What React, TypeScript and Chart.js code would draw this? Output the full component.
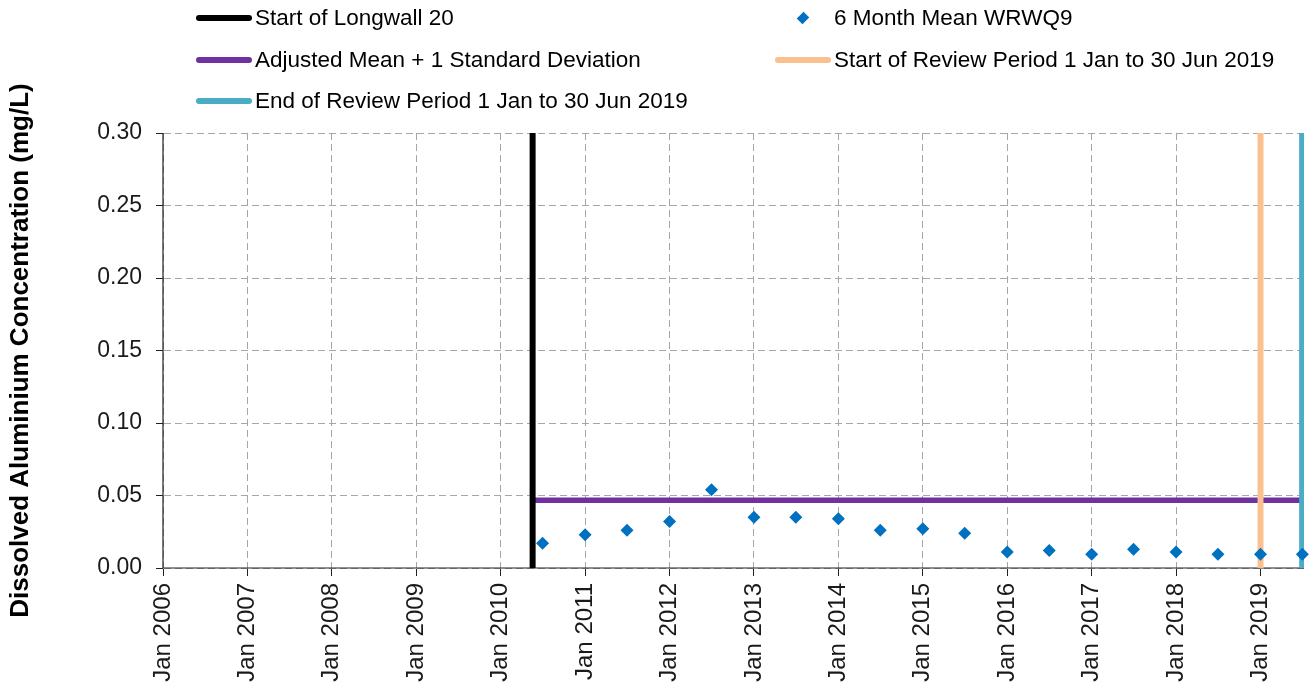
import React, { useEffect, useRef } from 'react';
import { Chart, registerables } from 'chart.js';

Chart.register(...registerables);

// ---------- data ----------
const YEAR_TICKS = [2006, 2007, 2008, 2009, 2010, 2011, 2012, 2013, 2014, 2015, 2016, 2017, 2018, 2019];
const Y_TICKS = [0, 0.05, 0.1, 0.15, 0.2, 0.25, 0.3];

const SAMPLE_DATES = [
  '2010-07-01', '2011-01-01', '2011-07-01', '2012-01-01', '2012-07-01', '2013-01-01', '2013-07-01',
  '2014-01-01', '2014-07-01', '2015-01-01', '2015-07-01', '2016-01-01', '2016-07-01', '2017-01-01',
  '2017-07-01', '2018-01-01', '2018-07-01', '2019-01-01', '2019-07-01',
];
const MEAN_WRWQ9 = [
  0.017, 0.023, 0.026, 0.032, 0.054, 0.035, 0.035,
  0.034, 0.026, 0.027, 0.024, 0.011, 0.012, 0.0095,
  0.013, 0.011, 0.0095, 0.0095, 0.0095,
];

const LONGWALL20_START = '2010-05-19';
const REVIEW_START = '2019-01-01';
const REVIEW_END = '2019-06-30';
const ADJ_MEAN_PLUS_SD = 0.0467;

const X_MIN_DATE = '2006-01-01';
const X_MAX_DATE = '2019-07-08';
const Y_MIN = 0;
const Y_MAX = 0.3;

const NAMES = {
  longwall: 'Start of Longwall 20',
  mean: '6 Month Mean WRWQ9',
  adjusted: 'Adjusted Mean + 1 Standard Deviation',
  reviewStart: 'Start of Review Period 1 Jan to 30 Jun 2019',
  reviewEnd: 'End of Review Period 1 Jan to 30 Jun 2019',
};
const COLORS = {
  longwall: '#000000',
  mean: '#0070C0',
  adjusted: '#7030A0',
  reviewStart: '#FAC090',
  reviewEnd: '#4BACC6',
};

const FONT = "'Liberation Sans', Arial, sans-serif";
const AXIS_COLOR = '#222222';

// decimal year from ISO date
function toYear(s: string): number {
  const [y, m, d] = s.split('-').map(Number);
  const start = Date.UTC(y, 0, 1);
  const end = Date.UTC(y + 1, 0, 1);
  const t = Date.UTC(y, m - 1, d);
  return y + (t - start) / (end - start);
}

function vLine(date: string) {
  const x = toYear(date);
  return [{ x, y: Y_MIN }, { x, y: Y_MAX }];
}

// solid axis lines (grid lines are dashed)
const solidAxes = {
  id: 'solidAxes',
  beforeDatasetsDraw(chart: any) {
    const { ctx, chartArea } = chart;
    ctx.save();
    ctx.setLineDash([]);
    ctx.strokeStyle = AXIS_COLOR;
    ctx.lineWidth = 1.2;
    ctx.beginPath();
    ctx.moveTo(chartArea.left, chartArea.top);
    ctx.lineTo(chartArea.left, chartArea.bottom);
    ctx.lineTo(chartArea.right, chartArea.bottom);
    ctx.stroke();
    ctx.restore();
  },
};

export default function App() {
  const ref = useRef<HTMLCanvasElement | null>(null);

  useEffect(() => {
    if (!ref.current) return;
    const xMin = toYear(X_MIN_DATE);
    const xMax = toYear(X_MAX_DATE);

    const chart = new Chart(ref.current, {
      type: 'scatter',
      plugins: [solidAxes],
      data: {
        datasets: [
          {
            type: 'scatter',
            label: NAMES.mean,
            data: SAMPLE_DATES.map((d, i) => ({ x: toYear(d), y: MEAN_WRWQ9[i] })),
            pointStyle: 'rectRot',
            pointRadius: 6.5,
            pointBackgroundColor: COLORS.mean,
            pointBorderColor: COLORS.mean,
            pointBorderWidth: 0,
            backgroundColor: COLORS.mean,
            borderColor: COLORS.mean,
            order: 0,
            clip: false,
          } as any,
          {
            type: 'line',
            label: NAMES.reviewEnd,
            data: vLine(REVIEW_END),
            borderColor: COLORS.reviewEnd,
            borderWidth: 6,
            pointRadius: 0,
            order: 1,
          },
          {
            type: 'line',
            label: NAMES.reviewStart,
            data: vLine(REVIEW_START),
            borderColor: COLORS.reviewStart,
            borderWidth: 6,
            pointRadius: 0,
            order: 2,
          },
          {
            type: 'line',
            label: NAMES.longwall,
            data: vLine(LONGWALL20_START),
            borderColor: COLORS.longwall,
            borderWidth: 6,
            pointRadius: 0,
            order: 3,
          },
          {
            type: 'line',
            label: NAMES.adjusted,
            data: [
              { x: toYear(LONGWALL20_START), y: ADJ_MEAN_PLUS_SD },
              { x: xMax, y: ADJ_MEAN_PLUS_SD },
            ],
            borderColor: COLORS.adjusted,
            borderWidth: 5.5,
            pointRadius: 0,
            order: 4,
          },
        ],
      },
      options: {
        responsive: false,
        animation: false,
        events: [],
        layout: { padding: { top: 133, right: 10, bottom: 0, left: 0 } },
        plugins: {
          legend: { display: false },
          tooltip: { enabled: false },
        },
        scales: {
          x: {
            type: 'linear',
            min: xMin,
            max: xMax,
            afterBuildTicks: (scale: any) => {
              scale.ticks = YEAR_TICKS.map((v) => ({ value: v }));
            },
            afterFit: (scale: any) => {
              scale.height = 120;
            },
            ticks: {
              autoSkip: false,
              minRotation: 90,
              maxRotation: 90,
              padding: 7,
              color: '#1a1a1a',
              font: { family: FONT, size: 24 },
              callback: (v: any) => 'Jan ' + Math.round(Number(v)),
            },
            grid: {
              color: '#A6A6A6',
              lineWidth: 1,
              tickLength: 8,
              tickColor: AXIS_COLOR,
              tickWidth: 1,
            },
            border: { color: 'rgba(0,0,0,0)', width: 1, dash: [7, 4] },
          },
          y: {
            type: 'linear',
            min: Y_MIN,
            max: Y_MAX,
            afterBuildTicks: (scale: any) => {
              scale.ticks = Y_TICKS.map((v) => ({ value: v }));
            },
            afterFit: (scale: any) => {
              scale.width = 163;
            },
            ticks: {
              padding: 14,
              color: '#1a1a1a',
              font: { family: FONT, size: 23 },
              callback: (v: any) => Number(v).toFixed(2),
            },
            grid: {
              color: '#A6A6A6',
              lineWidth: 1,
              tickLength: 7,
              tickColor: AXIS_COLOR,
              tickWidth: 1,
            },
            border: { color: 'rgba(0,0,0,0)', width: 1, dash: [7, 4] },
            title: {
              display: true,
              text: 'Dissolved Aluminium Concentration (mg/L)',
              color: '#000000',
              font: { family: FONT, size: 26, weight: 'bold' },
              padding: { top: 5, bottom: 0 },
            },
          },
        },
      },
    });
    return () => chart.destroy();
  }, []);

  const legendItems = [
    { key: 'longwall', left: 196, top: 18, kind: 'line' },
    { key: 'mean', left: 775, top: 18, kind: 'diamond' },
    { key: 'adjusted', left: 196, top: 60, kind: 'line' },
    { key: 'reviewStart', left: 775, top: 60, kind: 'line' },
    { key: 'reviewEnd', left: 196, top: 101, kind: 'line' },
  ] as const;

  return (
    <div style={{ position: 'absolute', left: 0, top: 0, width: 1314, height: 688, background: '#fff' }}>
      <canvas ref={ref} width={1314} height={688} style={{ display: 'block', width: 1314, height: 688 }} />
      {legendItems.map((it) => (
        <div
          key={it.key}
          style={{
            position: 'absolute',
            left: it.left,
            top: it.top - 14,
            height: 28,
            display: 'flex',
            alignItems: 'center',
            fontFamily: FONT,
            fontSize: 22.5,
            color: '#000',
            whiteSpace: 'nowrap',
          }}
        >
          <div style={{ width: 56, height: 28, position: 'relative', marginRight: 3 }}>
            {it.kind === 'line' ? (
              <div
                style={{
                  position: 'absolute',
                  left: 0,
                  top: 11,
                  width: 56,
                  height: 6,
                  borderRadius: 3,
                  background: (COLORS as any)[it.key],
                }}
              />
            ) : (
              <div
                style={{
                  position: 'absolute',
                  left: 28 - 4,
                  top: 14 - 4,
                  width: 8,
                  height: 8,
                  transform: 'rotate(45deg) scaleY(1.2)',
                  background: (COLORS as any)[it.key],
                }}
              />
            )}
          </div>
          <span>{(NAMES as any)[it.key]}</span>
        </div>
      ))}
    </div>
  );
}
